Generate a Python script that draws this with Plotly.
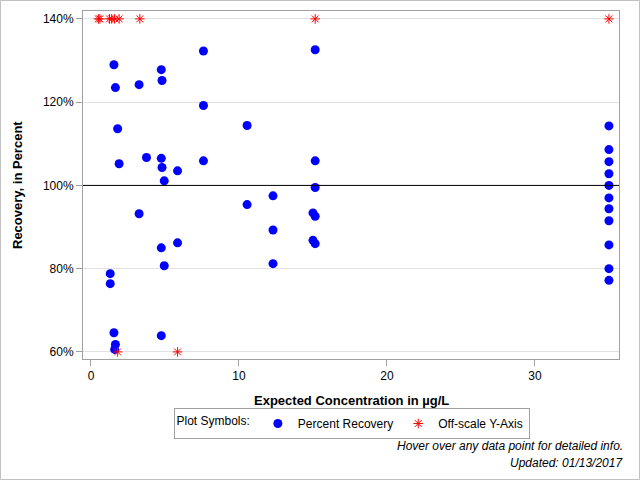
import plotly.graph_objects as go

# Percent recovery points (blue circles)
rec_x = [7.6, 1.55, 4.75, 1.65, 3.25, 4.8, 7.6, 10.55, 1.8, 1.9, 3.75, 4.75, 4.8, 5.85,
         7.6, 4.95, 10.55, 3.25, 4.75, 5.85, 4.95, 1.3, 1.3, 1.55, 4.75, 1.65, 1.6,
         15.15, 15.15, 15.15, 12.3, 15.0, 15.15, 12.3, 15.0, 15.15, 12.3,
         35, 35, 35, 35, 35, 35, 35, 35, 35, 35, 35]
rec_y = [132.3, 129.0, 127.8, 123.5, 124.2, 125.2, 119.2, 114.4, 113.6, 105.2, 106.7, 106.5, 104.3, 103.5,
         105.9, 101.1, 95.4, 93.2, 85.0, 86.2, 80.7, 78.8, 76.4, 64.6, 63.9, 61.8, 60.6,
         132.6, 105.9, 99.5, 97.5, 93.4, 92.6, 89.3, 86.8, 86.0, 81.2,
         114.3, 108.6, 105.7, 102.8, 100.0, 97.0, 94.4, 91.5, 85.7, 80.0, 77.2]

# Off-scale points (red asterisks)
off_x = [0.5, 0.6, 1.25, 1.4, 1.6, 1.9, 3.3, 15.15, 35, 1.8, 5.85]
off_y = [140, 140, 140, 140, 140, 140, 140, 140, 140, 60, 60]

y_ticks = [60, 80, 100, 120, 140]
y_tick_labels = ["60%", "80%", "100%", "120%", "140%"]
x_ticks = [0, 10, 20, 30]

FONT = "Liberation Sans, Arial, sans-serif"
AX = "#a0a0a0"

fig = go.Figure()
fig.add_trace(go.Scatter(x=rec_x, y=rec_y, mode="markers", name="Percent Recovery",
                         marker=dict(symbol="circle", size=9, color="#0000ff")))
fig.add_trace(go.Scatter(x=off_x, y=off_y, mode="markers", name="Off-scale Y-Axis",
                         marker=dict(symbol="asterisk-open", size=8,
                                     line=dict(color="#ff0000", width=1), color="#ff0000")))

L, R, T, B = 83, 21, 11, 121
PW, PH = 640 - L - R, 480 - T - B

fig.update_layout(
    width=640, height=480,
    margin=dict(l=L, r=R, t=T, b=B),
    paper_bgcolor="white", plot_bgcolor="white",
    font=dict(family=FONT, size=12, color="black"),
    showlegend=True,
    legend=dict(orientation="h", x=(351.5 - L) / PW, xanchor="center",
                y=(T + PH - 408) / PH, yanchor="top",
                bordercolor=AX, borderwidth=1, bgcolor="white",
                title=dict(text="Plot Symbols:", font=dict(size=12)),
                font=dict(size=12), itemwidth=30, tracegroupgap=0),
    xaxis=dict(range=[-0.54, 35.68], tickvals=x_ticks, showgrid=False, zeroline=False,
               showline=True, linecolor=AX, mirror=True, ticks="outside", tickcolor=AX,
               ticklen=6, tickfont=dict(size=12)),
    yaxis=dict(range=[58.3, 141.9], tickvals=y_ticks, ticktext=y_tick_labels, showgrid=True,
               gridcolor="#e2e2e2", zeroline=False, showline=True, linecolor=AX, mirror=True,
               ticks="outside", tickcolor=AX, ticklen=6, tickfont=dict(size=12)),
    shapes=[
        dict(type="line", xref="paper", yref="y", x0=0, x1=1, y0=100, y1=100,
             line=dict(color="black", width=1)),
        dict(type="rect", xref="paper", yref="paper",
             x0=(0.5 - L) / PW, x1=(639.5 - L) / PW,
             y0=(T + PH - 479.5) / PH, y1=(T + PH - 0.5) / PH,
             line=dict(color="#c0c0c0", width=1), layer="below"),
    ],
    annotations=[
        dict(text="<b>Expected Concentration in µg/L</b>", xref="paper", yref="paper",
             x=0.5, y=(T + PH - 400) / PH, xanchor="center", yanchor="middle",
             showarrow=False, font=dict(size=13)),
        dict(text="<b>Recovery, in Percent</b>", xref="paper", yref="paper",
             x=(17 - L) / PW, y=(T + PH - 185) / PH, xanchor="center", yanchor="middle",
             textangle=-90, showarrow=False, font=dict(size=13)),
        dict(text="<i>Hover over any data point for detailed info.</i>", xref="paper", yref="paper",
             x=(625 - L) / PW, y=(T + PH - 446) / PH, xanchor="right", yanchor="middle",
             showarrow=False, font=dict(size=12)),
        dict(text="<i>Updated: 01/13/2017</i>", xref="paper", yref="paper",
             x=(625 - L) / PW, y=(T + PH - 463) / PH, xanchor="right", yanchor="middle",
             showarrow=False, font=dict(size=12)),
    ],
)

fig.write_html("out.html")
